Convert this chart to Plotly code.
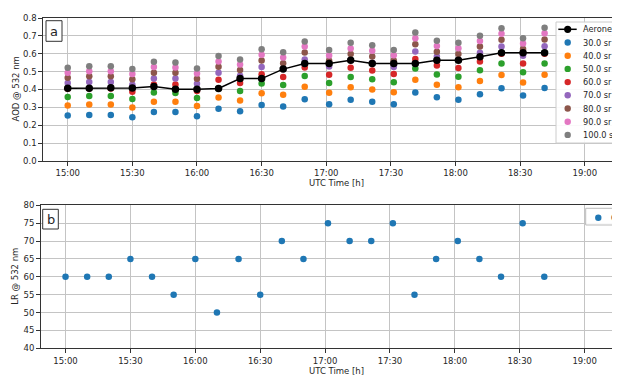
import plotly.graph_objects as go

# ---------------- data ----------------
times = ["15:00:00", "15:10:00", "15:20:00", "15:30:00", "15:40:00", "15:50:00",
         "16:00:00", "16:10:00", "16:20:00", "16:30:00", "16:40:00", "16:50:00",
         "17:01:20", "17:11:20", "17:21:20", "17:31:20", "17:41:20", "17:51:20",
         "18:01:20", "18:11:20", "18:21:20", "18:31:20", "18:41:20"]

aeronet = [0.407, 0.407, 0.410, 0.409, 0.417, 0.401, 0.401, 0.406, 0.461, 0.461, 0.514, 0.545,
           0.545, 0.564, 0.545, 0.545, 0.545, 0.564, 0.564, 0.583, 0.605, 0.605, 0.605]

lr_names = ["30.0 sr", "40.0 sr", "50.0 sr", "60.0 sr", "70.0 sr", "80.0 sr", "90.0 sr", "100.0 sr"]

aod_30 = [0.255, 0.258, 0.258, 0.245, 0.274, 0.274, 0.250, 0.292, 0.278, 0.313, 0.305, 0.346,
          0.317, 0.343, 0.332, 0.318, 0.383, 0.356, 0.343, 0.373, 0.407, 0.367, 0.408]
aod_40 = [0.310, 0.316, 0.316, 0.300, 0.332, 0.332, 0.307, 0.355, 0.338, 0.379, 0.370, 0.416,
          0.382, 0.413, 0.400, 0.384, 0.455, 0.426, 0.412, 0.448, 0.481, 0.439, 0.482]
aod_50 = [0.358, 0.363, 0.363, 0.347, 0.383, 0.380, 0.352, 0.405, 0.391, 0.433, 0.425, 0.475,
          0.437, 0.470, 0.457, 0.440, 0.517, 0.484, 0.471, 0.507, 0.545, 0.496, 0.546]
aod_60 = [0.404, 0.405, 0.405, 0.388, 0.428, 0.428, 0.392, 0.455, 0.436, 0.485, 0.470, 0.523,
          0.483, 0.521, 0.506, 0.487, 0.570, 0.534, 0.520, 0.556, 0.600, 0.545, 0.600]
aod_70 = [0.436, 0.442, 0.442, 0.426, 0.462, 0.462, 0.432, 0.494, 0.477, 0.526, 0.516, 0.568,
          0.528, 0.565, 0.550, 0.526, 0.613, 0.585, 0.566, 0.606, 0.640, 0.589, 0.642]
aod_80 = [0.466, 0.474, 0.474, 0.457, 0.494, 0.494, 0.460, 0.527, 0.509, 0.562, 0.547, 0.607,
          0.561, 0.598, 0.585, 0.562, 0.653, 0.611, 0.598, 0.640, 0.679, 0.626, 0.680]
aod_90 = [0.494, 0.502, 0.502, 0.487, 0.526, 0.523, 0.489, 0.557, 0.540, 0.594, 0.579, 0.640,
          0.590, 0.630, 0.617, 0.592, 0.687, 0.643, 0.631, 0.671, 0.712, 0.657, 0.714]
aod_100 = [0.522, 0.530, 0.530, 0.515, 0.555, 0.551, 0.517, 0.587, 0.568, 0.625, 0.609, 0.669,
           0.621, 0.662, 0.647, 0.621, 0.719, 0.673, 0.662, 0.701, 0.742, 0.687, 0.746]

lr_best = [60, 60, 60, 65, 60, 55, 65, 50, 65, 55, 70, 65,
           75, 70, 70, 75, 55, 65, 70, 65, 60, 75, 60]

colors = ["#1f77b4", "#ff7f0e", "#2ca02c", "#d62728", "#9467bd", "#8c564b", "#e377c2", "#7f7f7f"]

# ---------------- figure ----------------
# the page body has an 8px margin, so the figure is 612x368 and all
# reference-pixel positions are shifted by 8px
OFF = 8
W, H = 620 - OFF, 376 - OFF
FONT = "DejaVu Sans"
TXT = "#262626"
date = "2000-01-01 "
x = [date + t for t in times]


def px(v):
    return (v - OFF) / W


def py(v):
    return 1 - (v - OFF) / H


fig = go.Figure()

series = [aod_30, aod_40, aod_50, aod_60, aod_70, aod_80, aod_90, aod_100]
for name, vals, c in zip(lr_names, series, colors):
    fig.add_trace(go.Scatter(x=x, y=vals, mode="markers", name=name,
                             marker=dict(color=c, size=6.5, line=dict(width=0)),
                             xaxis="x", yaxis="y", showlegend=False))

fig.add_trace(go.Scatter(x=x, y=aeronet, mode="lines+markers", name="Aeronet",
                         line=dict(color="black", width=1.5),
                         marker=dict(color="black", size=7.5),
                         xaxis="x", yaxis="y", showlegend=False))

fig.add_trace(go.Scatter(x=x, y=lr_best, mode="markers", name="Closest LR",
                         marker=dict(color="#1f77b4", size=6.5),
                         xaxis="x2", yaxis="y2", showlegend=False))

xrange_ = [date + "14:48:40", date + "19:16:20"]
common_x = dict(type="date", range=xrange_, tickformat="%H:%M", dtick=1800000,
                tick0=date + "15:00", showgrid=True, gridcolor="#c4c4c4", gridwidth=1,
                showline=True, linecolor="#333333", linewidth=1, mirror=True,
                ticks="outside", ticklen=4, tickcolor="#333333",
                tickfont=dict(family=FONT, size=8.5, color=TXT), automargin=False,
                zeroline=False)
common_y = dict(showgrid=True, gridcolor="#c4c4c4", gridwidth=1,
                showline=True, linecolor="#333333", linewidth=1, mirror=True,
                ticks="outside", ticklen=4, tickcolor="#333333",
                tickfont=dict(family=FONT, size=8.5, color=TXT), automargin=False,
                zeroline=False)

fig.update_layout(
    width=W, height=H,
    margin=dict(l=0, r=0, t=0, b=0, autoexpand=False),
    paper_bgcolor="white", plot_bgcolor="white",
    font=dict(family=FONT, size=8.5, color=TXT),
    xaxis=dict(domain=[px(43.3), 1], anchor="y", **common_x),
    yaxis=dict(domain=[py(161), py(18)], anchor="x", range=[0, 0.8], dtick=0.1,
               tickformat=".1f", **common_y),
    xaxis2=dict(domain=[px(41), 1], anchor="y2", **common_x),
    yaxis2=dict(domain=[py(348.3), py(205.3)], anchor="x2", range=[40, 80], dtick=5,
                **common_y),
    showlegend=False,
)

ann = []
shapes = []
# axis titles
ann.append(dict(x=px(15), y=py(89.5), xref="paper", yref="paper", text="AOD @ 532 nm",
                textangle=-90, showarrow=False, font=dict(size=8.5, color=TXT),
                xanchor="center", yanchor="middle"))
ann.append(dict(x=px(15), y=py(276.8), xref="paper", yref="paper", text="LR @ 532 nm",
                textangle=-90, showarrow=False, font=dict(size=8.5, color=TXT),
                xanchor="center", yanchor="middle"))
for ty in (183.3, 371):
    ann.append(dict(x=px(336), y=py(ty), xref="paper", yref="paper", text="UTC Time [h]",
                    showarrow=False, font=dict(size=8.5, color=TXT),
                    xanchor="center", yanchor="middle"))

# panel labels
for lab, (x0, y0, x1, y1) in (("a", (46, 20.7, 62, 41.3)), ("b", (42.7, 209.3, 58.3, 229))):
    shapes.append(dict(type="rect", xref="paper", yref="paper", x0=px(x0), x1=px(x1),
                       y0=py(y1), y1=py(y0), line=dict(color="#333333", width=1),
                       fillcolor="white", layer="above"))
    ann.append(dict(x=px((x0 + x1) / 2), y=py((y0 + y1) / 2 + 0.5), xref="paper", yref="paper",
                    text=lab, showarrow=False, font=dict(size=13, color=TXT),
                    xanchor="center", yanchor="middle"))

# top legend (manual, clipped at right border like the reference)
shapes.append(dict(type="rect", xref="paper", yref="paper", x0=px(556), x1=px(720),
                   y0=py(143), y1=py(22), line=dict(color="#cccccc", width=1),
                   fillcolor="rgba(255,255,255,0.9)", layer="above"))
leg_names = ["Aeronet"] + lr_names
leg_cols = ["black"] + colors
for i, (nm, c) in enumerate(zip(leg_names, leg_cols)):
    yy = 29.3 + 13.2 * i
    r = 3.6 if i == 0 else 3.2
    if i == 0:
        shapes.append(dict(type="line", xref="paper", yref="paper", x0=px(558.3), x1=px(576.7),
                           y0=py(yy), y1=py(yy), line=dict(color="black", width=1.5),
                           layer="above"))
    shapes.append(dict(type="circle", xref="paper", yref="paper",
                       x0=px(567.7 - r), x1=px(567.7 + r), y0=py(yy + r), y1=py(yy - r),
                       fillcolor=c, line=dict(width=0), layer="above"))
    ann.append(dict(x=px(581.5), y=py(yy), xref="paper", yref="paper", text=nm,
                    showarrow=False, font=dict(size=8.2, color=TXT), borderpad=0,
                    xanchor="left", yanchor="middle"))

# bottom legend
shapes.append(dict(type="rect", xref="paper", yref="paper", x0=px(585.7), x1=px(720),
                   y0=py(225), y1=py(208.3), line=dict(color="#bbbbbb", width=1),
                   fillcolor="rgba(255,255,255,0.9)", layer="above"))
shapes.append(dict(type="circle", xref="paper", yref="paper",
                   x0=px(598.3 - 3.2), x1=px(598.3 + 3.2), y0=py(217.7 + 3.2), y1=py(217.7 - 3.2),
                   fillcolor="#1f77b4", line=dict(width=0), layer="above"))
ann.append(dict(x=px(609.5), y=py(217.7), xref="paper", yref="paper", text="Closest LR",
                showarrow=False, font=dict(size=8.2, color=TXT), borderpad=0,
                xanchor="left", yanchor="middle"))

fig.update_layout(annotations=ann, shapes=shapes)

fig.write_html("out.html")
